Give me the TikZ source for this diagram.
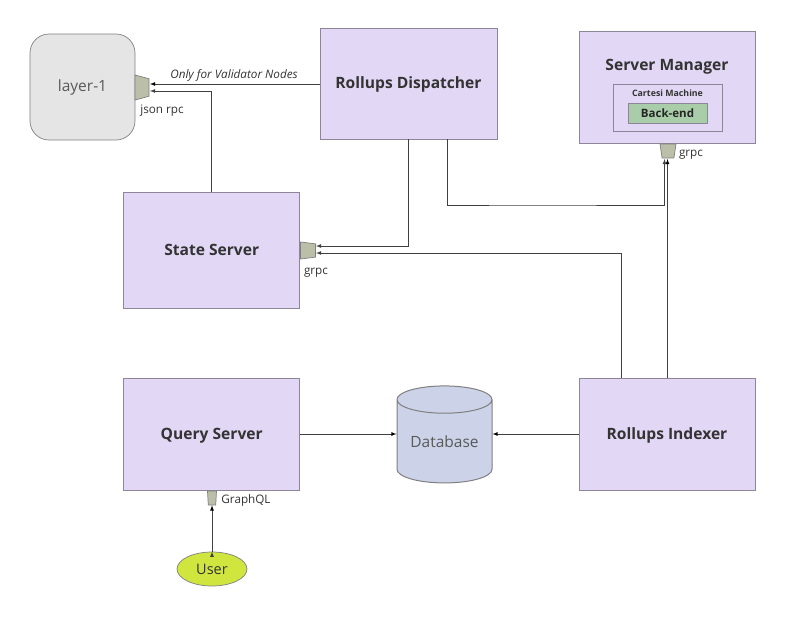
\documentclass[tikz,border=0pt]{standalone}
\usepackage{fontspec}
\setmainfont{Open Sans}
\usetikzlibrary{arrows,shapes,positioning}
\definecolor{lav}{HTML}{E2D8F6}
\definecolor{lavline}{HTML}{8C8698}
\definecolor{porta}{HTML}{BCBFA8}
\definecolor{txt}{HTML}{333333}
\definecolor{dbfill}{HTML}{CCD3E8}
\definecolor{backfill}{HTML}{A9CDA9}
\definecolor{userfill}{HTML}{D0E63F}
\begin{document}
\begin{tikzpicture}[x=1pt,y=-1pt,>=latex]
      \tikzstyle{box}=[rectangle,draw=lavline,fill=lav,line width=1pt,text=txt,font=\bfseries\fontsize{15.6}{18}\selectfont,text height=12.4pt,text depth=2.4pt,inner sep=0pt]
      \tikzstyle{port}=[trapezium,trapezium stretches=true,draw=gray,fill=porta,line width=.7pt,inner sep=1pt]
      \tikzstyle{lab}=[text=txt,font=\fontsize{11.7}{14}\selectfont,inner sep=0pt]
      \tikzstyle{line}=[line width=.8pt,draw=black!75]

      \useasboundingbox (0,0) rectangle (788,619);

      \node[rectangle,rounded corners=19pt,draw=gray,fill=black!10,line width=.7pt,minimum width=105pt,minimum height=106pt,text=black!65,font=\fontsize{15.5}{18}\selectfont](layer) at (82.5,87){layer-1};
      \node[box,minimum width=177pt,minimum height=111pt](disp) at (408.5,83.5){Rollups Dispatcher};
      \node[box,minimum width=176pt,minimum height=112pt,text depth=58pt,text height=24pt](mgr) at (667,87){Server Manager};
      \node[rectangle,draw=lavline,line width=1pt,minimum width=109pt,minimum height=47pt](cm) at (667.5,107.5){};
      \node[text=txt,inner sep=0pt,font=\bfseries\fontsize{8.8}{10}\selectfont](cmlab) at (667.5,93){Cartesi Machine};
      \node[rectangle,draw=lavline,fill=backfill,line width=1pt,minimum width=79pt,minimum height=20pt,inner sep=0pt,text=black!85,font=\bfseries\fontsize{11.5}{13}\selectfont](back) at (667.5,113){Back-end};
      \node[box,minimum width=176pt,minimum height=116pt](state) at (211.7,250){State Server};
      \node[box,minimum width=176pt,minimum height=112pt](query) at (211.7,434){Query Server};
      \node[box,minimum width=176pt,minimum height=112pt](indexer) at (667,434){Rollups Indexer};
      \node[cylinder,shape border rotate=90,aspect=.4,draw=gray,fill=dbfill,line width=1pt,minimum width=95pt,minimum height=97pt,inner sep=0pt,text=black!65,font=\fontsize{15.5}{18}\selectfont](db) at (444.5,441.5){Database};
      \node[ellipse,draw=gray,fill=userfill,line width=.7pt,minimum width=70pt,minimum height=34pt,inner sep=0pt,text=txt,font=\fontsize{14.5}{17}\selectfont](user) at (212,569){User};

      \node[port,shape border rotate=270,trapezium angle=78,minimum width=25pt,minimum height=14pt](json) at (142,87.5){};
      \node[port,shape border rotate=270,trapezium angle=82,minimum width=17pt,minimum height=15pt](grpca) at (308,250.5){};
      \node[port,shape border rotate=180,trapezium angle=80,minimum width=16pt,minimum height=14pt](grpcb) at (668,151){};
      \node[port,shape border rotate=180,trapezium angle=84,minimum width=9pt,minimum height=14pt](gql) at (212,498){};

      \node[lab](jsonlab) at (162,111){json rpc};
      \node[lab](grpcalab) at (316,273){grpc};
      \node[lab](grpcblab) at (691,155){grpc};
      \node[lab](gqllab) at (246,500){GraphQL};
      \node[lab,font=\itshape\fontsize{11.7}{14}\selectfont](only) at (234,75){Only for Validator Nodes};

      \coordinate (jsona) at (150,84);
      \coordinate (jsonb) at (150,91);
      \coordinate (grpcaa) at (316,246);
      \coordinate (grpcab) at (316,253);
      \coordinate (grpcba) at (664.5,159);
      \coordinate (grpcbb) at (667.5,159);
      \coordinate (dispa) at (408.5,139);
      \coordinate (dispb) at (447,139);
      \coordinate (indexa) at (621.5,378);
      \coordinate (indexb) at (667.5,378);

      \path[->,line]
      (disp.west |- jsona) edge (jsona)
      (indexb) edge (grpcbb)
      (query.east) edge (db.west |- query.east)
      (indexer.west) edge (db.east |- indexer.west)
      (user.north) edge (gql.south);

      \draw[->,line] (state.north) |- (jsonb);
      \draw[->,line] (dispa) |- (grpcaa);
      \draw[->,line] (indexa) |- (grpcab);
      \draw[->,line] (dispb) |- (530,205) -| (grpcba);
\end{tikzpicture}
\end{document}
